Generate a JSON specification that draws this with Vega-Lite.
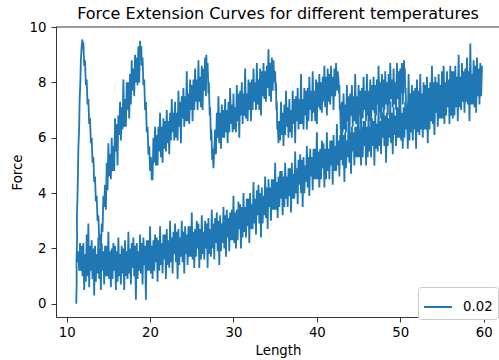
{
"$schema":"https://vega.github.io/schema/vega-lite/v6.json",
"width":444,"height":290,
"autosize":{"type":"none"},
"padding":{"left":56,"top":27,"right":0,"bottom":43},
"background":"white",
"config":{"font":"DejaVu Sans","view":{"stroke":null}},
"title":{"text":"Force Extension Curves for different temperatures","fontSize":16,"fontWeight":"normal","color":"#000","offset":7,"dy":9},
"layer":[
{"data":{"values":[
{"x":11.15,"y":0.0},{"x":11.2,"y":0.8},{"x":11.18,"y":1.6},{"x":11.25,"y":2.4},{"x":11.22,"y":3.1},{"x":11.3,"y":3.9},{"x":11.35,"y":4.7},{"x":11.4,"y":5.6},{"x":11.5,"y":6.4},{"x":11.55,"y":7.3},{"x":11.65,"y":8.1},{"x":11.7,"y":8.8},{"x":11.8,"y":9.3},{"x":11.88,"y":9.55},{"x":11.95,"y":9.2},{"x":12.0,"y":9.45},
{"x":12.1,"y":8.6},{"x":12.2,"y":8.8},{"x":12.3,"y":7.9},{"x":12.4,"y":8.1},{"x":12.5,"y":7.2},{"x":12.6,"y":7.4},{"x":12.7,"y":6.5},{"x":12.8,"y":6.7},{"x":12.9,"y":5.8},{"x":13.0,"y":6.0},{"x":13.1,"y":5.1},{"x":13.2,"y":5.3},{"x":13.3,"y":4.4},{"x":13.4,"y":4.6},{"x":13.5,"y":3.7},{"x":13.6,"y":3.9},{"x":13.7,"y":3.0},{"x":13.8,"y":3.2},{"x":13.9,"y":2.3},{"x":14.0,"y":2.5},{"x":14.1,"y":1.9},
{"x":14.2,"y":2.9},{"x":14.3,"y":2.6},{"x":14.4,"y":3.9},{"x":14.5,"y":3.5},{"x":14.6,"y":4.3},{"x":14.7,"y":3.4},{"x":14.8,"y":5.1},{"x":14.9,"y":4.1},{"x":15.0,"y":5.8},{"x":15.1,"y":4.6},{"x":15.2,"y":5.4},{"x":15.3,"y":4.5},{"x":15.4,"y":6.0},{"x":15.5,"y":4.8},{"x":15.6,"y":5.7},{"x":15.7,"y":4.8},{"x":15.8,"y":6.7},{"x":15.9,"y":5.5},{"x":16.0,"y":6.5},{"x":16.1,"y":5.0},{"x":16.2,"y":6.8},{"x":16.3,"y":6.1},{"x":16.4,"y":7.3},{"x":16.5,"y":5.9},{"x":16.6,"y":7.1},{"x":16.7,"y":6.3},{"x":16.8,"y":8.1},{"x":16.9,"y":6.4},{"x":17.0,"y":7.4},{"x":17.1,"y":6.4},{"x":17.2,"y":8.0},{"x":17.3,"y":7.0},{"x":17.4,"y":8.0},{"x":17.5,"y":6.7},{"x":17.6,"y":8.3},{"x":17.7,"y":7.2},{"x":17.8,"y":8.8},{"x":17.9,"y":7.7},{"x":18.0,"y":8.5},{"x":18.1,"y":7.5},{"x":18.2,"y":9.0},{"x":18.3,"y":8.0},{"x":18.4,"y":8.9},{"x":18.5,"y":7.9},{"x":18.6,"y":9.3},{"x":18.7,"y":8.0},{"x":18.8,"y":9.5},{"x":18.85,"y":9.0},
{"x":18.95,"y":9.3},{"x":19.0,"y":8.6},{"x":19.1,"y":8.9},{"x":19.2,"y":7.9},{"x":19.3,"y":8.1},{"x":19.4,"y":7.0},{"x":19.5,"y":7.3},{"x":19.6,"y":6.2},{"x":19.7,"y":6.4},{"x":19.8,"y":5.4},{"x":19.9,"y":5.7},{"x":20.0,"y":4.8},{"x":20.1,"y":5.3},{"x":20.2,"y":4.5},
{"x":20.3,"y":4.5},{"x":20.4,"y":6.0},{"x":20.5,"y":5.1},{"x":20.6,"y":6.4},{"x":20.7,"y":5.0},{"x":20.8,"y":6.1},{"x":20.9,"y":5.0},{"x":21.0,"y":6.4},{"x":21.1,"y":5.5},{"x":21.2,"y":6.9},{"x":21.3,"y":5.3},{"x":21.4,"y":6.4},{"x":21.5,"y":5.1},{"x":21.6,"y":6.7},{"x":21.7,"y":5.6},{"x":21.8,"y":6.6},{"x":21.9,"y":5.5},{"x":22.0,"y":7.0},{"x":22.1,"y":5.8},{"x":22.2,"y":6.6},{"x":22.3,"y":5.4},{"x":22.4,"y":6.9},{"x":22.5,"y":5.9},{"x":22.6,"y":7.4},{"x":22.7,"y":6.2},{"x":22.8,"y":6.9},{"x":22.9,"y":5.9},{"x":23.0,"y":7.3},{"x":23.1,"y":6.0},{"x":23.2,"y":6.9},{"x":23.3,"y":5.9},{"x":23.4,"y":7.7},{"x":23.5,"y":6.4},{"x":23.6,"y":7.3},{"x":23.7,"y":5.8},{"x":23.8,"y":7.5},{"x":23.9,"y":6.7},{"x":24.0,"y":7.8},{"x":24.1,"y":6.4},{"x":24.2,"y":7.5},{"x":24.3,"y":6.6},{"x":24.4,"y":8.4},{"x":24.5,"y":6.6},{"x":24.6,"y":7.6},{"x":24.7,"y":6.5},{"x":24.8,"y":8.1},{"x":24.9,"y":7.0},{"x":25.0,"y":7.9},{"x":25.1,"y":6.6},{"x":25.2,"y":8.1},{"x":25.3,"y":7.0},{"x":25.4,"y":8.5},{"x":25.5,"y":7.3},{"x":25.6,"y":8.1},{"x":25.7,"y":7.0},{"x":25.8,"y":8.8},{"x":25.9,"y":7.3},{"x":26.0,"y":8.2},{"x":26.1,"y":7.1},{"x":26.2,"y":8.6},{"x":26.3,"y":7.0},{"x":26.4,"y":8.5},{"x":26.5,"y":7.7},{"x":26.6,"y":8.9},{"x":26.7,"y":7.5},{"x":26.75,"y":9.0},{"x":26.8,"y":8.2},
{"x":26.9,"y":8.7},{"x":27.0,"y":7.6},{"x":27.05,"y":8.0},{"x":27.15,"y":6.8},{"x":27.2,"y":7.1},{"x":27.3,"y":5.9},{"x":27.35,"y":6.3},{"x":27.45,"y":5.2},{"x":27.5,"y":5.6},{"x":27.6,"y":4.9},{"x":27.7,"y":5.6},
{"x":27.8,"y":6.3},{"x":27.9,"y":5.4},{"x":28.0,"y":6.9},{"x":28.1,"y":6.0},{"x":28.2,"y":7.5},{"x":28.3,"y":5.8},{"x":28.4,"y":6.9},{"x":28.5,"y":5.6},{"x":28.6,"y":7.2},{"x":28.7,"y":6.0},{"x":28.8,"y":7.0},{"x":28.9,"y":6.0},{"x":29.0,"y":7.4},{"x":29.1,"y":6.2},{"x":29.2,"y":7.0},{"x":29.3,"y":5.8},{"x":29.4,"y":7.3},{"x":29.5,"y":6.2},{"x":29.6,"y":7.8},{"x":29.7,"y":6.5},{"x":29.8,"y":7.2},{"x":29.9,"y":6.2},{"x":30.0,"y":7.6},{"x":30.1,"y":6.3},{"x":30.2,"y":7.1},{"x":30.3,"y":6.2},{"x":30.4,"y":7.9},{"x":30.5,"y":6.6},{"x":30.6,"y":7.6},{"x":30.7,"y":6.0},{"x":30.8,"y":7.7},{"x":30.9,"y":6.8},{"x":31.0,"y":8.0},{"x":31.1,"y":6.5},{"x":31.2,"y":7.6},{"x":31.3,"y":6.8},{"x":31.4,"y":8.5},{"x":31.5,"y":6.7},{"x":31.6,"y":7.6},{"x":31.7,"y":6.6},{"x":31.8,"y":8.1},{"x":31.9,"y":7.0},{"x":32.0,"y":8.0},{"x":32.1,"y":6.6},{"x":32.2,"y":8.1},{"x":32.3,"y":7.0},{"x":32.4,"y":8.5},{"x":32.5,"y":7.3},{"x":32.6,"y":8.0},{"x":32.7,"y":7.0},{"x":32.8,"y":8.7},{"x":32.9,"y":7.2},{"x":33.0,"y":8.1},{"x":33.1,"y":7.0},{"x":33.2,"y":8.5},{"x":33.3,"y":6.8},{"x":33.4,"y":8.4},{"x":33.5,"y":7.5},{"x":33.6,"y":8.7},{"x":33.7,"y":7.4},{"x":33.8,"y":8.4},{"x":33.9,"y":7.3},{"x":34.0,"y":8.6},{"x":34.1,"y":7.8},{"x":34.2,"y":9.2},{"x":34.3,"y":7.5},{"x":34.4,"y":8.7},{"x":34.5,"y":7.3},{"x":34.6,"y":8.9},{"x":34.7,"y":7.7},{"x":34.8,"y":8.8},{"x":34.9,"y":8.0},
{"x":35.0,"y":8.4},{"x":35.05,"y":7.7},{"x":35.1,"y":8.0},{"x":35.15,"y":7.0},{"x":35.2,"y":7.3},{"x":35.25,"y":6.3},{"x":35.3,"y":6.6},{"x":35.4,"y":5.8},{"x":35.5,"y":6.6},
{"x":35.6,"y":5.9},{"x":35.7,"y":7.3},{"x":35.8,"y":6.1},{"x":35.9,"y":6.9},{"x":36.0,"y":5.7},{"x":36.1,"y":7.2},{"x":36.2,"y":6.1},{"x":36.3,"y":7.7},{"x":36.4,"y":6.4},{"x":36.5,"y":7.1},{"x":36.6,"y":6.0},{"x":36.7,"y":7.4},{"x":36.8,"y":6.2},{"x":36.9,"y":7.0},{"x":37.0,"y":6.0},{"x":37.1,"y":7.7},{"x":37.2,"y":6.5},{"x":37.3,"y":7.4},{"x":37.4,"y":5.8},{"x":37.5,"y":7.5},{"x":37.6,"y":6.6},{"x":37.7,"y":7.8},{"x":37.8,"y":6.3},{"x":37.9,"y":7.4},{"x":38.0,"y":6.5},{"x":38.1,"y":8.3},{"x":38.2,"y":6.5},{"x":38.3,"y":7.4},{"x":38.4,"y":6.3},{"x":38.5,"y":7.8},{"x":38.6,"y":6.8},{"x":38.7,"y":7.7},{"x":38.8,"y":6.3},{"x":38.9,"y":7.8},{"x":39.0,"y":6.6},{"x":39.1,"y":8.2},{"x":39.2,"y":7.0},{"x":39.3,"y":7.7},{"x":39.4,"y":6.6},{"x":39.5,"y":8.4},{"x":39.6,"y":6.9},{"x":39.7,"y":7.7},{"x":39.8,"y":6.6},{"x":39.9,"y":8.1},{"x":40.0,"y":6.5},{"x":40.1,"y":8.0},{"x":40.2,"y":7.1},{"x":40.3,"y":8.3},{"x":40.4,"y":7.0},{"x":40.5,"y":8.0},{"x":40.6,"y":6.9},{"x":40.7,"y":8.2},{"x":40.8,"y":7.3},{"x":40.9,"y":8.6},{"x":41.0,"y":7.1},{"x":41.1,"y":8.2},{"x":41.2,"y":6.8},{"x":41.3,"y":8.5},{"x":41.4,"y":7.3},{"x":41.5,"y":8.3},{"x":41.6,"y":7.2},{"x":41.7,"y":8.6},{"x":41.8,"y":7.5},{"x":41.9,"y":8.2},{"x":42.0,"y":7.0},{"x":42.1,"y":8.5},{"x":42.2,"y":7.5},{"x":42.3,"y":8.7},{"x":42.4,"y":7.7},{"x":42.5,"y":8.4},
{"x":42.6,"y":8.1},{"x":42.65,"y":7.6},{"x":42.7,"y":7.9},{"x":42.75,"y":7.0},{"x":42.8,"y":7.2},{"x":42.85,"y":6.4},{"x":42.9,"y":6.1},
{"x":43.0,"y":7.3},{"x":43.1,"y":6.2},{"x":43.2,"y":7.6},{"x":43.3,"y":6.3},{"x":43.4,"y":7.2},{"x":43.5,"y":6.2},{"x":43.6,"y":7.9},{"x":43.7,"y":6.6},{"x":43.8,"y":7.5},{"x":43.9,"y":5.9},{"x":44.0,"y":7.6},{"x":44.1,"y":6.8},{"x":44.2,"y":7.9},{"x":44.3,"y":6.4},{"x":44.4,"y":7.5},{"x":44.5,"y":6.6},{"x":44.6,"y":8.3},{"x":44.7,"y":6.5},{"x":44.8,"y":7.5},{"x":44.9,"y":6.4},{"x":45.0,"y":7.9},{"x":45.1,"y":6.8},{"x":45.2,"y":7.7},{"x":45.3,"y":6.3},{"x":45.4,"y":7.8},{"x":45.5,"y":6.7},{"x":45.6,"y":8.2},{"x":45.7,"y":7.0},{"x":45.8,"y":7.7},{"x":45.9,"y":6.6},{"x":46.0,"y":8.3},{"x":46.1,"y":6.8},{"x":46.2,"y":7.7},{"x":46.3,"y":6.6},{"x":46.4,"y":8.1},{"x":46.5,"y":6.4},{"x":46.6,"y":7.9},{"x":46.7,"y":7.0},{"x":46.8,"y":8.2},{"x":46.9,"y":6.9},{"x":47.0,"y":7.9},{"x":47.1,"y":6.8},{"x":47.2,"y":8.1},{"x":47.3,"y":7.2},{"x":47.4,"y":8.6},{"x":47.5,"y":6.9},{"x":47.6,"y":8.0},{"x":47.7,"y":6.7},{"x":47.8,"y":8.3},{"x":47.9,"y":7.1},{"x":48.0,"y":8.1},{"x":48.1,"y":7.0},{"x":48.2,"y":8.4},{"x":48.3,"y":7.2},{"x":48.4,"y":8.0},{"x":48.5,"y":6.8},{"x":48.6,"y":8.3},{"x":48.7,"y":7.2},{"x":48.8,"y":8.7},{"x":48.9,"y":7.4},{"x":49.0,"y":8.1},{"x":49.1,"y":7.1},{"x":49.2,"y":8.5},{"x":49.3,"y":7.2},{"x":49.4,"y":8.0},{"x":49.5,"y":7.0},{"x":49.6,"y":8.7},{"x":49.7,"y":7.4},{"x":49.8,"y":8.4},{"x":49.9,"y":6.8},{"x":50.0,"y":8.5},{"x":50.1,"y":7.6},{"x":50.2,"y":8.7},{"x":50.3,"y":7.2},{"x":50.4,"y":8.3},{"x":50.45,"y":8.8},
{"x":50.5,"y":8.2},{"x":50.55,"y":8.5},{"x":50.6,"y":7.6},{"x":50.65,"y":7.8},{"x":50.7,"y":6.9},{"x":50.75,"y":7.1},{"x":50.8,"y":6.4},
{"x":50.9,"y":6.6},{"x":51.0,"y":8.3},{"x":51.1,"y":6.5},{"x":51.2,"y":7.4},{"x":51.3,"y":6.4},{"x":51.4,"y":7.9},{"x":51.5,"y":6.8},{"x":51.6,"y":7.7},{"x":51.7,"y":6.3},{"x":51.8,"y":7.8},{"x":51.9,"y":6.6},{"x":52.0,"y":8.1},{"x":52.1,"y":6.9},{"x":52.2,"y":7.7},{"x":52.3,"y":6.6},{"x":52.4,"y":8.3},{"x":52.5,"y":6.8},{"x":52.6,"y":7.6},{"x":52.7,"y":6.5},{"x":52.8,"y":8.0},{"x":52.9,"y":6.3},{"x":53.0,"y":7.9},{"x":53.1,"y":7.0},{"x":53.2,"y":8.2},{"x":53.3,"y":6.8},{"x":53.4,"y":7.8},{"x":53.5,"y":6.7},{"x":53.6,"y":8.0},{"x":53.7,"y":7.1},{"x":53.8,"y":8.6},{"x":53.9,"y":6.9},{"x":54.0,"y":8.0},{"x":54.1,"y":6.6},{"x":54.2,"y":8.2},{"x":54.3,"y":7.0},{"x":54.4,"y":8.0},{"x":54.5,"y":6.9},{"x":54.6,"y":8.3},{"x":54.7,"y":7.2},{"x":54.8,"y":7.9},{"x":54.9,"y":6.7},{"x":55.0,"y":8.2},{"x":55.1,"y":7.1},{"x":55.2,"y":8.6},{"x":55.3,"y":7.3},{"x":55.4,"y":8.0},{"x":55.5,"y":7.0},{"x":55.6,"y":8.4},{"x":55.7,"y":7.1},{"x":55.8,"y":7.9},{"x":55.9,"y":6.9},{"x":56.0,"y":8.6},{"x":56.1,"y":7.3},{"x":56.2,"y":8.2},{"x":56.3,"y":6.7},{"x":56.4,"y":8.4},{"x":56.5,"y":7.5},{"x":56.6,"y":8.6},{"x":56.7,"y":7.1},{"x":56.8,"y":8.2},{"x":56.9,"y":7.3},{"x":57.0,"y":9.0},{"x":57.1,"y":7.2},{"x":57.2,"y":8.2},{"x":57.3,"y":7.1},{"x":57.4,"y":8.6},{"x":57.5,"y":7.5},{"x":57.6,"y":8.4},{"x":57.7,"y":7.0},{"x":57.8,"y":8.5},{"x":57.9,"y":7.3},{"x":58.0,"y":8.9},{"x":58.1,"y":7.7},{"x":58.2,"y":8.4},{"x":58.3,"y":7.3},{"x":58.4,"y":9.4},{"x":58.5,"y":7.5},{"x":58.6,"y":8.3},{"x":58.7,"y":7.2},{"x":58.8,"y":8.8},{"x":58.9,"y":7.1},{"x":59.0,"y":8.6},{"x":59.1,"y":7.7},{"x":59.2,"y":8.9},{"x":59.3,"y":7.5},{"x":59.4,"y":8.5},{"x":59.5,"y":7.4},{"x":59.6,"y":8.7},{"x":59.7,"y":7.9},{"x":59.8,"y":8.6},
{"x":59.7,"y":7.5},{"x":59.6,"y":8.6},{"x":59.5,"y":7.2},{"x":59.4,"y":8.4},{"x":59.3,"y":7.7},{"x":59.2,"y":8.6},{"x":59.1,"y":6.9},{"x":59.0,"y":8.4},{"x":58.9,"y":7.3},{"x":58.8,"y":8.8},{"x":58.7,"y":7.5},{"x":58.6,"y":8.2},{"x":58.5,"y":7.2},{"x":58.4,"y":8.5},{"x":58.3,"y":6.6},{"x":58.2,"y":8.3},{"x":58.1,"y":7.2},{"x":58.0,"y":8.6},{"x":57.9,"y":7.5},{"x":57.8,"y":8.4},{"x":57.7,"y":6.9},{"x":57.6,"y":8.2},{"x":57.5,"y":7.3},{"x":57.4,"y":8.7},{"x":57.3,"y":7.0},{"x":57.2,"y":8.0},{"x":57.1,"y":7.1},{"x":57.0,"y":8.4},{"x":56.9,"y":6.6},{"x":56.8,"y":8.2},{"x":56.7,"y":7.2},{"x":56.6,"y":8.2},{"x":56.5,"y":6.8},{"x":56.4,"y":7.9},{"x":56.3,"y":7.1},{"x":56.2,"y":8.4},{"x":56.1,"y":6.8},{"x":56.0,"y":7.9},{"x":55.9,"y":6.5},{"x":55.8,"y":8.1},{"x":55.7,"y":7.1},{"x":55.6,"y":8.1},{"x":55.5,"y":6.8},{"x":55.4,"y":7.9},{"x":55.3,"y":6.5},{"x":55.2,"y":7.7},{"x":55.1,"y":6.7},{"x":55.0,"y":8.4},{"x":54.9,"y":6.8},{"x":54.8,"y":7.9},
{"x":54.7,"y":6.7},{"x":54.6,"y":7.8},{"x":54.5,"y":6.4},{"x":54.4,"y":7.6},{"x":54.3,"y":6.9},{"x":54.2,"y":7.8},{"x":54.1,"y":6.1},{"x":54.0,"y":7.6},{"x":53.9,"y":6.5},{"x":53.8,"y":8.0},{"x":53.7,"y":6.6},{"x":53.6,"y":7.3},{"x":53.5,"y":6.3},{"x":53.4,"y":7.6},{"x":53.3,"y":5.8},{"x":53.2,"y":7.4},{"x":53.1,"y":6.3},{"x":53.0,"y":7.7},{"x":52.9,"y":6.6},{"x":52.8,"y":7.5},{"x":52.7,"y":6.0},{"x":52.6,"y":7.2},{"x":52.5,"y":6.3},{"x":52.4,"y":7.8},{"x":52.3,"y":6.1},{"x":52.2,"y":7.1},{"x":52.1,"y":6.2},{"x":52.0,"y":7.5},{"x":51.9,"y":5.6},{"x":51.8,"y":7.2},{"x":51.7,"y":6.3},{"x":51.6,"y":7.3},{"x":51.5,"y":5.9},{"x":51.4,"y":7.0},{"x":51.3,"y":6.2},{"x":51.2,"y":7.6},{"x":51.1,"y":5.9},{"x":51.0,"y":7.0},{"x":50.9,"y":5.6},{"x":50.8,"y":7.2},{"x":50.7,"y":6.3},{"x":50.6,"y":7.3},{"x":50.5,"y":6.0},{"x":50.4,"y":7.1},{"x":50.3,"y":5.6},{"x":50.2,"y":6.9},{"x":50.1,"y":5.9},{"x":50.0,"y":7.6},{"x":49.9,"y":6.0},{"x":49.8,"y":7.1},
{"x":49.7,"y":6.0},{"x":49.6,"y":7.1},{"x":49.5,"y":5.7},{"x":49.4,"y":6.8},{"x":49.3,"y":6.1},{"x":49.2,"y":7.1},{"x":49.1,"y":5.4},{"x":49.0,"y":6.9},{"x":48.9,"y":5.8},{"x":48.8,"y":7.3},{"x":48.7,"y":6.0},{"x":48.6,"y":6.7},{"x":48.5,"y":5.7},{"x":48.4,"y":6.9},{"x":48.3,"y":5.1},{"x":48.2,"y":6.8},{"x":48.1,"y":5.7},{"x":48.0,"y":7.1},{"x":47.9,"y":6.0},{"x":47.8,"y":6.9},{"x":47.7,"y":5.4},{"x":47.6,"y":6.6},{"x":47.5,"y":5.7},{"x":47.4,"y":7.2},{"x":47.3,"y":5.5},{"x":47.2,"y":6.5},{"x":47.1,"y":5.6},{"x":47.0,"y":6.9},{"x":46.9,"y":5.0},{"x":46.8,"y":6.6},{"x":46.7,"y":5.7},{"x":46.6,"y":6.7},{"x":46.5,"y":5.3},{"x":46.4,"y":6.4},{"x":46.3,"y":5.5},{"x":46.2,"y":6.9},{"x":46.1,"y":5.3},{"x":46.0,"y":6.4},{"x":45.9,"y":5.0},{"x":45.8,"y":6.6},{"x":45.7,"y":5.7},{"x":45.6,"y":6.6},{"x":45.5,"y":5.3},{"x":45.4,"y":6.4},{"x":45.3,"y":5.0},{"x":45.2,"y":6.3},{"x":45.1,"y":5.3},{"x":45.0,"y":7.0},{"x":44.9,"y":5.3},{"x":44.8,"y":6.4},
{"x":44.7,"y":5.3},{"x":44.6,"y":6.4},{"x":44.5,"y":5.0},{"x":44.4,"y":6.2},{"x":44.3,"y":5.5},{"x":44.2,"y":6.4},{"x":44.1,"y":4.7},{"x":44.0,"y":6.2},{"x":43.9,"y":5.1},{"x":43.8,"y":6.6},{"x":43.7,"y":5.3},{"x":43.6,"y":5.9},{"x":43.5,"y":4.9},{"x":43.4,"y":6.2},{"x":43.3,"y":4.4},{"x":43.2,"y":6.1},{"x":43.1,"y":5.0},{"x":43.0,"y":6.4},{"x":42.9,"y":5.2},{"x":42.8,"y":6.1},{"x":42.7,"y":4.6},{"x":42.6,"y":5.9},{"x":42.5,"y":5.0},{"x":42.4,"y":6.5},{"x":42.3,"y":4.8},{"x":42.2,"y":5.7},{"x":42.1,"y":4.8},{"x":42.0,"y":6.1},{"x":41.9,"y":4.3},{"x":41.8,"y":5.9},{"x":41.7,"y":5.0},{"x":41.6,"y":5.9},{"x":41.5,"y":4.5},{"x":41.4,"y":5.6},{"x":41.3,"y":4.8},{"x":41.2,"y":6.2},{"x":41.1,"y":4.5},{"x":41.0,"y":5.6},{"x":40.9,"y":4.2},{"x":40.8,"y":5.8},{"x":40.7,"y":4.9},{"x":40.6,"y":5.9},{"x":40.5,"y":4.5},{"x":40.4,"y":5.6},{"x":40.3,"y":4.2},{"x":40.2,"y":5.5},{"x":40.1,"y":4.5},{"x":40.0,"y":6.2},{"x":39.9,"y":4.5},{"x":39.8,"y":5.6},
{"x":39.7,"y":4.5},{"x":39.6,"y":5.6},{"x":39.5,"y":4.1},{"x":39.4,"y":5.3},{"x":39.3,"y":4.6},{"x":39.2,"y":5.6},{"x":39.1,"y":3.9},{"x":39.0,"y":5.3},{"x":38.9,"y":4.2},{"x":38.8,"y":5.7},{"x":38.7,"y":4.4},{"x":38.6,"y":5.0},{"x":38.5,"y":4.0},{"x":38.4,"y":5.3},{"x":38.3,"y":3.5},{"x":38.2,"y":5.2},{"x":38.1,"y":4.0},{"x":38.0,"y":5.4},{"x":37.9,"y":4.3},{"x":37.8,"y":5.2},{"x":37.7,"y":3.6},{"x":37.6,"y":4.9},{"x":37.5,"y":4.0},{"x":37.4,"y":5.5},{"x":37.3,"y":3.8},{"x":37.2,"y":4.7},{"x":37.1,"y":3.8},{"x":37.0,"y":5.1},{"x":36.9,"y":3.3},{"x":36.8,"y":4.9},{"x":36.7,"y":3.9},{"x":36.6,"y":4.9},{"x":36.5,"y":3.5},{"x":36.4,"y":4.6},{"x":36.3,"y":3.8},{"x":36.2,"y":5.1},{"x":36.1,"y":3.5},{"x":36.0,"y":4.6},{"x":35.9,"y":3.2},{"x":35.8,"y":4.8},{"x":35.7,"y":3.8},{"x":35.6,"y":4.8},{"x":35.5,"y":3.5},{"x":35.4,"y":4.6},{"x":35.3,"y":3.1},{"x":35.2,"y":4.4},{"x":35.1,"y":3.4},{"x":35.0,"y":5.1},{"x":34.9,"y":3.4},{"x":34.8,"y":4.5},
{"x":34.7,"y":3.4},{"x":34.6,"y":4.5},{"x":34.5,"y":3.0},{"x":34.4,"y":4.2},{"x":34.3,"y":3.5},{"x":34.2,"y":4.5},{"x":34.1,"y":2.7},{"x":34.0,"y":4.2},{"x":33.9,"y":3.1},{"x":33.8,"y":4.6},{"x":33.7,"y":3.2},{"x":33.6,"y":3.9},{"x":33.5,"y":2.9},{"x":33.4,"y":4.2},{"x":33.3,"y":2.4},{"x":33.2,"y":4.0},{"x":33.1,"y":2.9},{"x":33.0,"y":4.3},{"x":32.9,"y":3.2},{"x":32.8,"y":4.1},{"x":32.7,"y":2.5},{"x":32.6,"y":3.8},{"x":32.5,"y":2.9},{"x":32.4,"y":4.4},{"x":32.3,"y":2.7},{"x":32.2,"y":3.6},{"x":32.1,"y":2.7},{"x":32.0,"y":4.0},{"x":31.9,"y":2.2},{"x":31.8,"y":3.8},{"x":31.7,"y":2.8},{"x":31.6,"y":3.8},{"x":31.5,"y":2.4},{"x":31.4,"y":3.5},{"x":31.3,"y":2.6},{"x":31.2,"y":4.0},{"x":31.1,"y":2.4},{"x":31.0,"y":3.5},{"x":30.9,"y":2.0},{"x":30.8,"y":3.6},{"x":30.7,"y":2.7},{"x":30.6,"y":3.7},{"x":30.5,"y":2.3},{"x":30.4,"y":3.4},{"x":30.3,"y":2.0},{"x":30.2,"y":3.3},{"x":30.1,"y":2.2},{"x":30.0,"y":3.9},{"x":29.9,"y":2.3},{"x":29.8,"y":3.4},
{"x":29.7,"y":2.3},{"x":29.6,"y":3.3},{"x":29.5,"y":1.9},{"x":29.4,"y":3.1},{"x":29.3,"y":2.4},{"x":29.2,"y":3.4},{"x":29.1,"y":1.7},{"x":29.0,"y":3.2},{"x":28.9,"y":2.0},{"x":28.8,"y":3.5},{"x":28.7,"y":2.2},{"x":28.6,"y":2.9},{"x":28.5,"y":1.9},{"x":28.4,"y":3.2},{"x":28.3,"y":1.4},{"x":28.2,"y":3.0},{"x":28.1,"y":1.9},{"x":28.0,"y":3.3},{"x":27.9,"y":2.2},{"x":27.8,"y":3.1},{"x":27.7,"y":1.6},{"x":27.6,"y":2.9},{"x":27.5,"y":2.0},{"x":27.4,"y":3.4},{"x":27.3,"y":1.7},{"x":27.2,"y":2.7},{"x":27.1,"y":1.8},{"x":27.0,"y":3.1},{"x":26.9,"y":1.3},{"x":26.8,"y":2.9},{"x":26.7,"y":2.0},{"x":26.6,"y":3.0},{"x":26.5,"y":1.6},{"x":26.4,"y":2.6},{"x":26.3,"y":1.8},{"x":26.2,"y":3.2},{"x":26.1,"y":1.6},{"x":26.0,"y":2.7},{"x":25.9,"y":1.3},{"x":25.8,"y":2.9},{"x":25.7,"y":2.0},{"x":25.6,"y":3.0},{"x":25.5,"y":1.7},{"x":25.4,"y":2.7},{"x":25.3,"y":1.3},{"x":25.2,"y":2.6},{"x":25.1,"y":1.6},{"x":25.0,"y":3.3},{"x":24.9,"y":1.7},{"x":24.8,"y":2.8},
{"x":24.7,"y":1.7},{"x":24.6,"y":2.8},{"x":24.5,"y":1.4},{"x":24.4,"y":2.5},{"x":24.3,"y":1.8},{"x":24.2,"y":2.8},{"x":24.1,"y":1.1},{"x":24.0,"y":2.6},{"x":23.9,"y":1.5},{"x":23.8,"y":3.0},{"x":23.7,"y":1.7},{"x":23.6,"y":2.4},{"x":23.5,"y":1.4},{"x":23.4,"y":2.7},{"x":23.3,"y":0.9},{"x":23.2,"y":2.6},{"x":23.1,"y":1.5},{"x":23.0,"y":2.9},{"x":22.9,"y":1.8},{"x":22.8,"y":2.6},{"x":22.7,"y":1.1},{"x":22.6,"y":2.4},{"x":22.5,"y":1.5},{"x":22.4,"y":3.0},{"x":22.3,"y":1.3},{"x":22.2,"y":2.3},{"x":22.1,"y":1.4},{"x":22.0,"y":2.7},{"x":21.9,"y":0.9},{"x":21.8,"y":2.5},{"x":21.7,"y":1.6},{"x":21.6,"y":2.5},{"x":21.5,"y":1.1},{"x":21.4,"y":2.2},{"x":21.3,"y":1.4},{"x":21.2,"y":2.8},{"x":21.1,"y":1.2},{"x":21.0,"y":2.3},{"x":20.9,"y":0.8},{"x":20.8,"y":2.4},{"x":20.7,"y":1.5},{"x":20.6,"y":2.5},{"x":20.5,"y":1.2},{"x":20.4,"y":2.3},{"x":20.3,"y":0.9},{"x":20.2,"y":2.1},{"x":20.1,"y":1.1},{"x":20.0,"y":2.8},{"x":19.9,"y":1.2},{"x":19.8,"y":2.3},
{"x":19.7,"y":1.2},{"x":19.6,"y":2.3},{"x":19.5,"y":0.15},{"x":19.4,"y":2.1},{"x":19.3,"y":1.4},{"x":19.2,"y":2.4},{"x":19.1,"y":0.7},{"x":19.0,"y":2.2},{"x":18.9,"y":1.1},{"x":18.8,"y":2.5},{"x":18.7,"y":1.2},{"x":18.6,"y":1.9},{"x":18.5,"y":0.9},{"x":18.4,"y":2.2},{"x":18.3,"y":0.15},{"x":18.2,"y":2.1},{"x":18.1,"y":1.0},{"x":18.0,"y":2.4},{"x":17.9,"y":1.3},{"x":17.8,"y":2.2},{"x":17.7,"y":0.7},{"x":17.6,"y":2.0},{"x":17.5,"y":1.1},{"x":17.4,"y":2.6},{"x":17.3,"y":0.9},{"x":17.2,"y":1.9},{"x":17.1,"y":1.0},{"x":17.0,"y":2.3},{"x":16.9,"y":0.5},{"x":16.8,"y":2.0},{"x":16.7,"y":1.1},{"x":16.6,"y":2.1},{"x":16.5,"y":0.7},{"x":16.4,"y":1.8},{"x":16.3,"y":1.0},{"x":16.2,"y":2.4},{"x":16.1,"y":0.8},{"x":16.0,"y":1.9},{"x":15.9,"y":0.5},{"x":15.8,"y":2.1},{"x":15.7,"y":1.2},{"x":15.6,"y":2.2},{"x":15.5,"y":0.9},{"x":15.4,"y":2.0},{"x":15.3,"y":0.6},{"x":15.2,"y":1.9},{"x":15.1,"y":0.9},{"x":15.0,"y":2.6},{"x":14.9,"y":1.0},{"x":14.8,"y":2.1},
{"x":14.7,"y":1.0},{"x":14.6,"y":2.1},{"x":14.5,"y":0.7},{"x":14.4,"y":1.9},{"x":14.3,"y":1.2},{"x":14.2,"y":2.2},{"x":14.1,"y":0.5},{"x":14.0,"y":2.0},{"x":13.9,"y":0.9},{"x":13.8,"y":2.4},{"x":13.7,"y":1.1},{"x":13.6,"y":1.8},{"x":13.5,"y":0.8},{"x":13.4,"y":2.1},{"x":13.3,"y":0.3},{"x":13.2,"y":2.0},{"x":13.1,"y":0.9},{"x":13.0,"y":2.3},{"x":12.9,"y":1.2},{"x":12.8,"y":2.1},{"x":12.7,"y":0.6},{"x":12.6,"y":2.9},{"x":12.5,"y":1.0},{"x":12.4,"y":2.5},{"x":12.3,"y":0.8},{"x":12.2,"y":1.8},{"x":12.1,"y":0.5},{"x":12.0,"y":2.2},{"x":11.9,"y":1.0},{"x":11.8,"y":2.1},{"x":11.7,"y":1.2},{"x":11.6,"y":2.2},{"x":11.5,"y":1.2},{"x":11.4,"y":1.9},{"x":11.35,"y":1.5}
]},
"mark":{"type":"line","strokeWidth":1.8,"clip":true},
"encoding":{
"x":{"field":"x","type":"quantitative","scale":{"domain":[8.72,61.96],"nice":false,"zero":false},
"axis":{"values":[10,20,30,40,50,60],"title":"Length","grid":false,"tickSize":5,"tickColor":"#000","domainColor":"#000","domainWidth":0.8,"tickWidth":0.8,"labelFontSize":13.3,"labelColor":"#000","labelPadding":3,"titleFontSize":13.3,"titleFontWeight":"normal","titleColor":"#000","titlePadding":5}},
"y":{"field":"y","type":"quantitative","scale":{"domain":[-0.475,10],"nice":false,"zero":false},
"axis":{"values":[0,2,4,6,8,10],"title":"Force","grid":false,"tickSize":5,"tickColor":"#000","domainColor":"#000","domainWidth":0.8,"tickWidth":0.8,"labelFontSize":13.3,"labelColor":"#000","labelPadding":5,"titleFontSize":13.3,"titleFontWeight":"normal","titleColor":"#000","titlePadding":5}},
"order":{"value":null},
"color":{"datum":"0.02","type":"nominal","scale":{"range":["#1f77b4"]},
"legend":{"title":null,"orient":"none","legendX":362,"legendY":260,"symbolType":"stroke","symbolSize":784,"symbolStrokeWidth":2,"labelFontSize":13.3,"labelColor":"#000","labelOffset":10,"padding":5,"strokeColor":"#cccccc","fillColor":"white","cornerRadius":3}}
}},
{"data":{"values":[{}]},
"mark":{"type":"rule","color":"#000","strokeWidth":0.8},
"encoding":{"y":{"datum":10}}}
]
}
